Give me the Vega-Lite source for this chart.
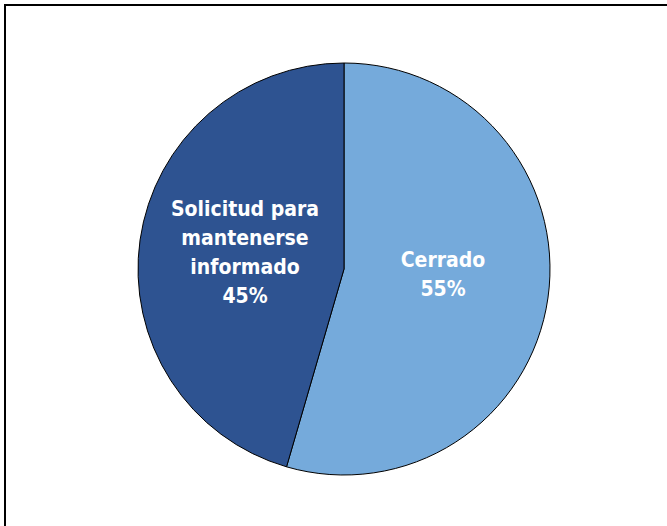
{
  "$schema": "https://vega.github.io/schema/vega-lite/v6.json",
  "width": 678,
  "height": 528,
  "autosize": "none",
  "padding": {"left": 5, "top": 5, "right": 0, "bottom": 0},
  "background": "white",
  "view": {"stroke": "black", "strokeWidth": 2},
  "config": {"view": {"stroke": "black", "strokeWidth": 2}},
  "data": {"values": [
    {"category": "Cerrado", "value": 54.5, "order": 1, "label": "Cerrado\n55%"},
    {"category": "Solicitud para mantenerse informado", "value": 45.5, "order": 2, "label": "Solicitud para\nmantenerse\ninformado\n45%"}
  ]},
  "encoding": {
    "theta": {"field": "value", "type": "quantitative", "stack": true},
    "order": {"field": "order", "type": "quantitative"},
    "color": {"field": "category", "type": "nominal", "legend": null,
      "scale": {"domain": ["Cerrado", "Solicitud para mantenerse informado"], "range": ["#75AADB", "#2E5391"]}}
  },
  "layer": [
    {"mark": {"type": "arc", "outerRadius": 206, "stroke": "black", "strokeWidth": 1}},
    {"mark": {"type": "text", "radius": 100, "dy": -22, "lineBreak": "\n", "font": "DejaVu Sans Condensed", "fontWeight": "bold", "fontSize": 21, "lineHeight": 29, "align": "center", "baseline": "middle"},
     "encoding": {"text": {"condition": {"test": "datum.order == 1", "field": "label"}, "value": ""}, "color": {"value": "white"}}},
    {"mark": {"type": "text", "radius": 100, "dy": -45, "lineBreak": "\n", "font": "DejaVu Sans Condensed", "fontWeight": "bold", "fontSize": 21, "lineHeight": 29, "align": "center", "baseline": "middle"},
     "encoding": {"text": {"condition": {"test": "datum.order == 2", "field": "label"}, "value": ""}, "color": {"value": "white"}}}
  ]
}
